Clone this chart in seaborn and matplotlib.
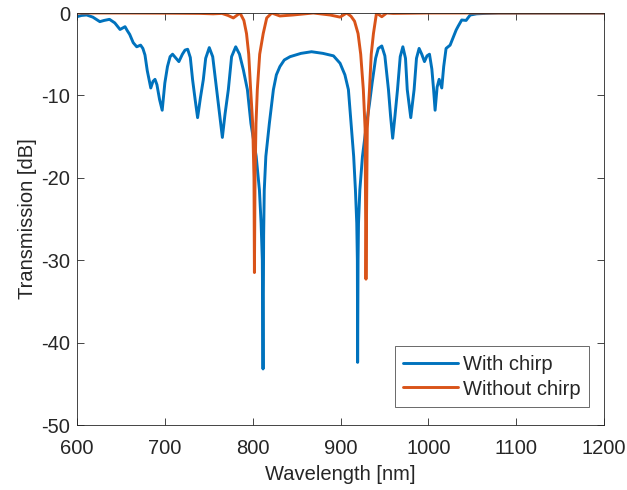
import matplotlib
matplotlib.use("Agg")
import matplotlib.pyplot as plt
import seaborn as sns
import pandas as pd

# ---- data ----
chirp_wl = [600, 605, 611, 618, 626, 631, 637, 643, 649, 654.7, 657, 660, 664, 668, 672.4, 675,
            677.4, 680, 684, 686.5, 688.8, 691, 694, 697, 700, 703, 706, 708.8, 712, 716, 720,
            723, 726, 729, 731.6, 734.5, 737.3, 740.5, 743.8, 746.5, 750.6, 754.5, 759, 762.5,
            765.5, 768.5, 772.3, 776, 780.7, 785, 789.4, 794, 798, 804, 807.7, 809.6, 811,
            811.8, 812.5, 813.2, 815, 819, 823.6, 827, 831, 836, 842.6, 855, 867, 880, 892,
            899.5, 905, 909, 912, 915, 917, 918.5, 919.2, 919.5, 920, 920.5, 922, 925, 929,
            933, 936, 940, 943, 947, 950.5, 954.6, 957, 959.4, 962, 964.9, 968, 971, 974, 976,
            980, 983.8, 986.5, 989.5, 992.5, 995.6, 998.5, 1001.3, 1004, 1006, 1007.7, 1010,
            1012.3, 1015.3, 1017.5, 1020.2, 1024.8, 1028.6, 1031.7, 1034, 1038, 1043, 1047.6,
            1055, 1065, 1080, 1120, 1160, 1200]
chirp_db = [-0.45, -0.3, -0.24, -0.5, -1.05, -0.9, -0.77, -1.2, -2.0, -1.66, -2.1, -2.6, -3.6,
            -4.1, -3.9, -4.3, -5.1, -7.0, -9.1, -8.3, -8.05, -8.7, -10.5, -11.8, -8.5, -6.5,
            -5.3, -5.0, -5.4, -5.9, -5.0, -4.5, -4.4, -5.4, -8.1, -10.5, -12.7, -10.3, -8.1,
            -5.5, -4.2, -5.3, -9.3, -12.5, -15.1, -12.3, -9.3, -5.3, -4.1, -5.0, -6.9, -9.3,
            -13.4, -17.4, -21.5, -25.5, -30.0, -43.2, -27.0, -21.5, -17.4, -13.4, -9.3, -7.5,
            -6.5, -5.7, -5.3, -4.9, -4.7, -4.9, -5.2, -6.1, -7.5, -9.3, -13.4, -17.4, -21.5,
            -25.5, -30.0, -42.4, -30.0, -25.5, -21.5, -17.4, -14.0, -11.0, -8.5, -5.5, -4.3,
            -4.0, -5.2, -9.3, -12.5, -15.2, -12.5, -9.3, -5.3, -4.1, -5.5, -9.3, -12.7, -9.3,
            -5.5, -4.3, -5.0, -5.9, -5.2, -5.0, -6.8, -9.3, -11.8, -9.0, -8.05, -9.1, -6.5,
            -4.3, -3.9, -2.9, -2.06, -1.6, -0.85, -0.9, -0.25, -0.1, -0.05, 0.0, 0.0, 0.0, 0.0]

nochirp_wl = [600, 650, 700, 740, 755, 765, 772, 778, 785.6, 790, 793, 795.5, 797.7, 800, 801.5,
              802, 802.7, 803.8, 805.3, 808, 812, 816, 821.7, 831, 846, 869, 888, 899.5, 907,
              912, 916, 920, 923, 926, 928, 929, 930.5, 933, 935, 937.5, 941, 947, 952.6, 960,
              1000, 1100, 1200]
nochirp_db = [0.0, 0.0, -0.02, -0.05, -0.1, -0.05, -0.3, -0.6, 0.0, -0.9, -2.5, -5.0, -9.3, -13.4,
              -20.0, -31.5, -20.0, -13.4, -9.3, -5.0, -2.5, -0.6, 0.0, -0.36, -0.24, 0.0, -0.24,
              -0.5, 0.0, -0.4, -1.0, -2.5, -5.0, -9.3, -14.0, -32.3, -14.0, -9.3, -5.0, -2.5,
              0.0, -0.45, 0.0, -0.05, 0.0, 0.0, 0.0]

labels = ["With chirp", "Without chirp"]
colors = ["#0072BD", "#D95319"]
x_ticks = [600, 700, 800, 900, 1000, 1100, 1200]
y_ticks = [-50, -40, -30, -20, -10, 0]

df = pd.concat([
    pd.DataFrame({"wl": chirp_wl, "db": chirp_db, "series": labels[0]}),
    pd.DataFrame({"wl": nochirp_wl, "db": nochirp_db, "series": labels[1]}),
], ignore_index=True)

sns.set_style("white")
plt.rcParams["font.family"] = ["Liberation Sans", "DejaVu Sans"]
plt.rcParams["axes.unicode_minus"] = False

FS = 14.5
fig = plt.figure(figsize=(6.27, 4.90), dpi=100)
ax = fig.add_axes([77 / 627, 1 - 425 / 490, (604 - 77) / 627, (425 - 13) / 490])

sns.lineplot(data=df, x="wl", y="db", hue="series", palette=colors, hue_order=labels,
             estimator=None, sort=False, linewidth=2.1, ax=ax)

ax.set_xlim(600, 1200)
ax.set_ylim(-50, 0)
ax.set_xticks(x_ticks)
ax.set_yticks(y_ticks)
ax.set_xticklabels([str(t) for t in x_ticks])
ax.set_yticklabels([str(t) for t in y_ticks])
ax.set_xlabel("Wavelength [nm]", fontsize=FS, color="#262626", labelpad=5)
ax.set_ylabel("Transmission [dB]", fontsize=FS, color="#262626", labelpad=3)
ax.tick_params(direction="in", length=5, width=0.6, colors="#262626", labelsize=FS,
               top=True, right=True, bottom=True, left=True)
ax.tick_params(axis="x", pad=10)
ax.tick_params(axis="y", pad=5)
for s in ax.spines.values():
    s.set_visible(True)
    s.set_color("#262626")
    s.set_linewidth(0.6)

leg = ax.legend(loc="lower right", fontsize=FS, frameon=True, fancybox=False,
                handlelength=2.7, handletextpad=0.25, borderpad=0.42, labelspacing=0.28,
                borderaxespad=0, bbox_to_anchor=(0.9715, 0.0437))
leg.get_frame().set_edgecolor("#262626")
leg.get_frame().set_linewidth(0.6)
leg.set_title(None)
for line in leg.get_lines():
    line.set_linewidth(2.1)

fig.savefig("out.png", dpi=100)
